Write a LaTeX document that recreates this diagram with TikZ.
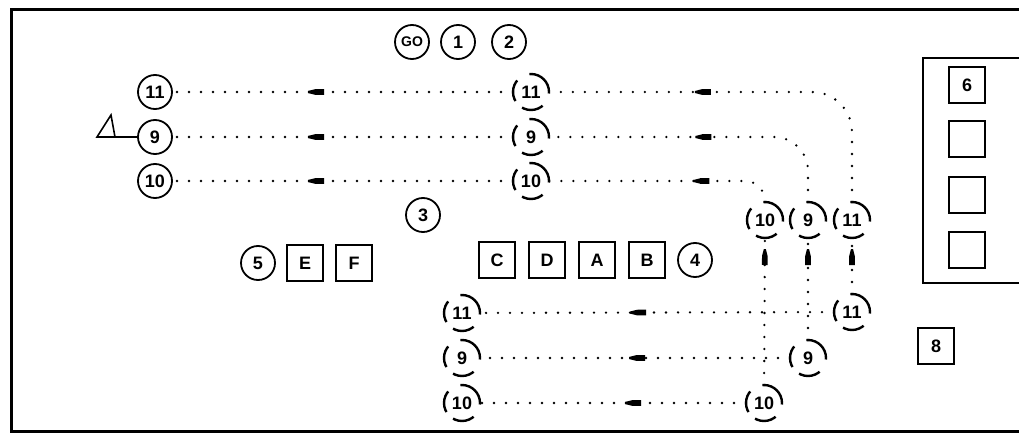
\documentclass[tikz,border=0pt]{standalone}
\usepackage{fontspec}
\setmainfont{Liberation Sans}
\usetikzlibrary{decorations.markings}
\begin{document}
\begin{tikzpicture}[x=1pt,y=-1pt,
  lbl/.style={font=\fontsize{18}{18}\selectfont\bfseries},
  sc/.style={circle, draw, line width=1.8pt, minimum size=34pt, inner sep=0pt, outer sep=0pt, lbl},
  dc/.style={circle, draw, line width=2.4pt, minimum size=36pt, inner sep=0pt, outer sep=0pt, lbl,
    dash pattern=on 31.4pt off 14.1pt on 22pt off 9.4pt on 22pt off 14.1pt, dash phase=1.57pt},
  bx/.style={rectangle, draw, line width=1.8pt, minimum size=36pt, inner sep=0pt, lbl},
  dots/.style={line width=2.6pt, line cap=round, dash pattern=on 0pt off 12pt},
  amark/.style={postaction={decorate}, decoration={markings, mark=at position #1 with {%
    \fill[sharp corners, solid] (8,1) -- (1,2.8) -- (-8,2.8) -- (-8,-2.8) -- (1,-2.8) -- (8,-1) -- cycle;}}},
  frame/.style={line width=3pt},
]
\useasboundingbox (0,0) rectangle (1019,433);

% outer frame
\draw[frame] (1019,10) -- (11,10) -- (11,431) -- (1019,431);
% right panel
\draw[line width=2pt] (1019,58) -- (923,58) -- (923,283) -- (1019,283);

% top circles
\node[sc] (go) at (412,42) {\fontsize{14}{14}\selectfont GO};
\node[sc] (c1) at (458,42) {1};
\node[sc] (c2) at (509,42) {2};

% left column
\node[sc] (l11) at (155,92) {11};
\node[sc] (l9) at (155,137) {9};
\node[sc] (l10) at (155,181) {10};

% middle dashed
\node[dc] (m11) at (531,92) {11};
\node[dc] (m9) at (531,137) {9};
\node[dc] (m10) at (531,181) {10};

% upper right dashed
\node[dc] (r10) at (765,220) {10};
\node[dc] (r9) at (808,220) {9};
\node[dc] (r11) at (852,220) {11};

% bottom right dashed
\node[dc] (b11) at (852,312) {11};
\node[dc] (b9) at (808,358) {9};
\node[dc] (b10) at (764,403) {10};

% bottom left dashed
\node[dc] (n11) at (462,313) {11};
\node[dc] (n9) at (462,358) {9};
\node[dc] (n10) at (462,403) {10};

% middle items
\node[sc] (c3) at (423,215) {3};
\node[sc] (c5) at (258,263) {5};
\node[bx] (bE) at (305,263) {E};
\node[bx] (bF) at (354,263) {F};
\node[bx] (bC) at (497,260) {C};
\node[bx] (bD) at (547,260) {D};
\node[bx] (bA) at (597,260) {A};
\node[bx] (bB) at (647,260) {B};
\node[sc] (c4) at (695,260) {4};

% panel boxes
\node[bx] (p6) at (967,85) {6};
\node[bx] (p7) at (967,139) {};
\node[bx] (p8) at (967,195) {};
\node[bx] (p9) at (967,250) {};
\node[bx] (q8) at (936,346) {8};

% triangle and its line
\draw[line width=1.6pt] (97,137) -- (111,115) -- (115,137) -- cycle;
\coordinate (tb) at (115,137);
\draw[line width=1.6pt] (tb) -- (l9);

% top rows, left segments
\draw[dots, amark=197pt] (m11) -- (l11);
\draw[dots, amark=197pt] (m9) -- (l9);
\draw[dots, amark=197pt] (m10) -- (l10);

% top rows, right segments
\draw[dots, rounded corners=40pt, amark=242pt] (r11) |- (m11);
\draw[dots, rounded corners=34pt, amark=155pt] (r9) |- (m9);
\draw[dots, rounded corners=20pt, amark=76pt] (r10) |- (m10);

% verticals
\draw[dots, amark=37pt] (b11) -- (r11);
\draw[dots, amark=83pt] (b9) -- (r9);
\draw[dots, amark=128pt] (b10) -- (r10);

% bottom rows
\draw[dots, amark=196pt] (b11) -- (n11);
\draw[dots, amark=153pt] (b9) -- (n9);
\draw[dots, amark=113pt] (b10) -- (n10);
\end{tikzpicture}
\end{document}
